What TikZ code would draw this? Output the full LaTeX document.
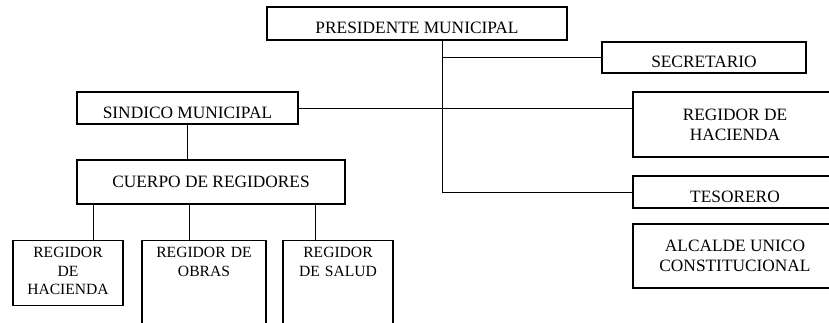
\documentclass[tikz,border=0pt]{standalone}
\usepackage{fontspec}
\setmainfont{Liberation Serif}
\usepackage{tikz}
\tikzstyle{office} = [rectangle, draw=black, line width=0.8pt, inner sep=0pt, text centered, align=center, font=\fontsize{13}{15}\selectfont]
\tikzstyle{lowtext} = [text height=16pt, text depth=1pt]
\tikzstyle{council} = [rectangle, draw=black, line width=0.8pt, anchor=north, inner xsep=0pt, inner ysep=5pt, text height=8pt, align=center, font=\fontsize{11.7}{13.9}\selectfont]
\tikzstyle{link} = [line width=0.6pt, color=black]

\begin{document}
\begin{tikzpicture}[x=0.75pt, y=-0.75pt]
\useasboundingbox (0,0) rectangle (829,322);
\clip (0,0) rectangle (829,322);

% Head
\node[office, lowtext, minimum width=225pt, minimum height=24.75pt] (pres) at (417,23.5) {PRESIDENTE MUNICIPAL};

% Right column
\node[office, lowtext, minimum width=153pt, minimum height=23.25pt] (sec) at (704,57.5) {SECRETARIO};
\node[office, minimum width=153pt, minimum height=48.75pt] (regh) at (735,124.5) {REGIDOR DE\\HACIENDA};
\node[office, lowtext, minimum width=153pt, minimum height=24pt] (tes) at (735,192) {TESORERO};
\node[office, minimum width=153pt, minimum height=48pt] (alc) at (735,256) {ALCALDE UNICO\\CONSTITUCIONAL};

% Left branch
\node[office, lowtext, minimum width=165.75pt, minimum height=24pt] (sind) at (187.5,108) {SINDICO MUNICIPAL};
\node[office, minimum width=201pt, minimum height=33pt] (cuerpo) at (211,182) {CUERPO DE REGIDORES};

% Regidores
\node[council, text width=82.5pt, text depth=30.75pt] (rh) at (68,240) {REGIDOR\\DE\\HACIENDA};
\node[council, text width=93pt, text depth=57pt] (ro) at (204,240) {REGIDOR DE\\OBRAS};
\node[council, text width=82.5pt, text depth=57pt] (rs) at (338,240) {REGIDOR\\DE SALUD};

% Connections
\coordinate (trunk) at (442,40);
\draw[link] (trunk) |- (tes.west);
\draw[link] (trunk |- sec.west) -- (sec.west);
\draw[link] (sind.east) -- (sind.east -| regh.west);
\draw[link] (sind.south) -- (sind.south |- cuerpo.north);
\foreach \dx/\sub in {-88.5/rh, -16.5/ro, 78/rs}
  \draw[link] ([xshift=\dx pt]cuerpo.south) coordinate (c\sub) -- (c\sub |- \sub.north);
\end{tikzpicture}
\end{document}
